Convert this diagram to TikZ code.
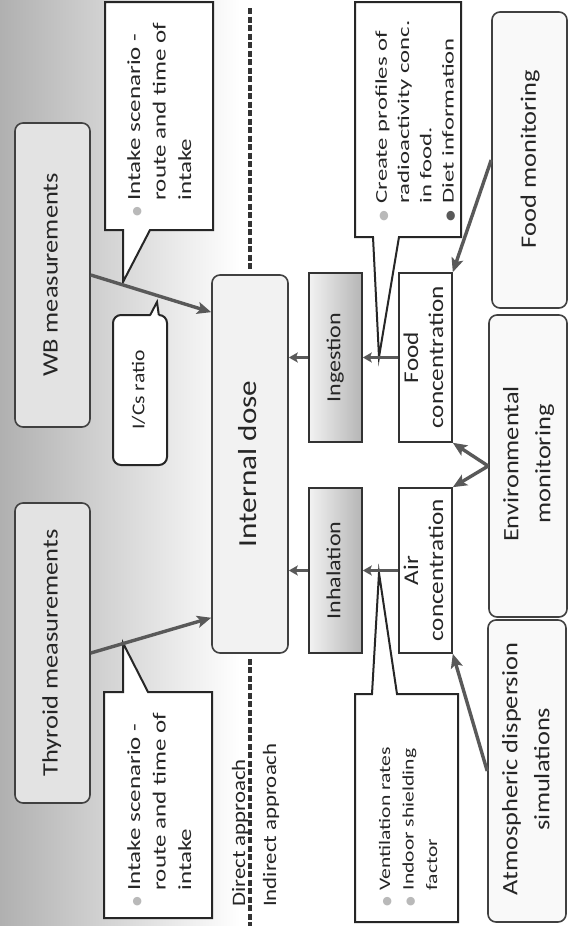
\documentclass[tikz,border=0pt]{standalone}
\usepackage{fontspec}
\setmainfont{Carlito}
\newfontfamily\dejavu{DejaVu Sans}
\usepackage{graphicx}
\usetikzlibrary{arrows.meta,calc}

\newcommand{\lbltxt}[4]{\fontsize{#1}{#2}\selectfont\scalebox{#3}[1]{\begin{tabular}{@{}c@{}}#4\end{tabular}}}
\newcommand{\cbox}[4]{\fontsize{#1}{#2}\selectfont\scalebox{#3}[1]{\begin{tabular}{@{}c@{\hspace{5pt}}l@{}}#4\end{tabular}}}
\newcommand{\cbul}{{\dejavu\fontsize{11}{11}\selectfont\scalebox{0.75}[1]{\textcolor{gray!55}{●}}}}
\newcommand{\cbuld}{{\dejavu\fontsize{11}{11}\selectfont\scalebox{0.75}[1]{\textcolor{black!65}{●}}}}

\begin{document}
\begin{tikzpicture}[x=1pt,y=-1pt,
  box/.style={draw=black!75, line width=1.6pt, rounded corners=8pt, inner sep=0pt},
  sbox/.style={draw=black!80, line width=1.6pt, inner sep=0pt},
  txt/.style={rotate=90, inner sep=0pt, text=black!85},
  call/.style={draw=black!85, line width=2pt, fill=white},
  arr/.style={draw=black!65, line width=3.4pt, -{Stealth[length=14pt,width=12pt,inset=3pt]}},
  sarr/.style={draw=black!65, line width=3pt, -{Stealth[length=9pt,width=10pt,inset=2pt]}},
  dashline/.style={draw=black!80, line width=3.4pt, dash pattern=on 6pt off 2.5pt}
]
\useasboundingbox (0,0) rectangle (570,926);
\fill[white] (0,0) rectangle (570,926);
\shade[left color=gray!62, middle color=gray!36, right color=white] (0,0) rectangle (240,926);

% boxes
\node[box, fill=gray!22, minimum width=75pt, minimum height=300pt] (thy) at (52.5,653) {};
\node[box, fill=gray!22, minimum width=75pt, minimum height=304pt] (wb) at (52.5,275) {};
\node[box, fill=gray!10, minimum width=76pt, minimum height=378pt] (dose) at (250,464) {};
\node[sbox, left color=gray!10, right color=gray!58, minimum width=53pt, minimum height=165pt] (inh) at (335.5,570.5) {};
\node[sbox, left color=gray!10, right color=gray!58, minimum width=53pt, minimum height=169pt] (ing) at (335.5,357.5) {};
\node[sbox, fill=white, minimum width=53pt, minimum height=169pt] (food) at (425.5,357.5) {};
\node[sbox, fill=white, minimum width=53pt, minimum height=165pt] (air) at (425.5,570.5) {};
\node[box, fill=gray!5, minimum width=75pt, minimum height=296pt] (fmon) at (529.5,160) {};
\node[box, fill=gray!5, minimum width=78pt, minimum height=302pt] (env) at (528,466) {};
\node[box, fill=gray!5, minimum width=78pt, minimum height=302pt] (atm) at (527,771) {};

% callouts
\draw[call] (105,2) -- (213,2) -- (213,230) -- (150,230) -- (123,282) -- (123,230) -- (105,230) -- cycle;
\draw[call] (104,692) -- (123,692) -- (123,643) -- (148,692) -- (212,692) -- (212,918) -- (104,918) -- cycle;
\draw[call] (355,2) -- (461,2) -- (461,237) -- (399,237) -- (379,357) -- (373,237) -- (355,237) -- cycle;
\draw[call] (355,694) -- (372,694) -- (379,573) -- (397,694) -- (458,694) -- (458,922) -- (355,922) -- cycle;
\node[box, draw=black!85, line width=2pt, fill=white, minimum width=54pt, minimum height=150pt] (ics) at (140,390) {};
\fill[white] (150.2,317) -- (157,302) -- (158.8,317) -- cycle;
\draw[draw=black!85, line width=2pt] (150.2,315) -- (157,302) -- (158.8,315);

% dashed divider
\coordinate (dtop) at (250,8);
\coordinate (dbot) at (250,926);
\draw[dashline, shorten >=4pt] (dtop) -- (dose.north);
\draw[dashline, shorten <=5pt] (dose.south) -- (dbot);

% labels
\node[txt] (thyT) at (thy) {\lbltxt{22}{26}{1.2}{Thyroid measurements}};
\node[txt] (wbT) at (wb) {\lbltxt{22}{26}{1.2}{WB measurements}};
\node[txt] (doseT) at (dose) {\lbltxt{26}{30}{1.2}{Internal dose}};
\node[txt] (icsT) at (ics) {\lbltxt{18}{22}{1.2}{I/Cs ratio}};
\node[txt] (inhT) at (inh) {\lbltxt{20}{24}{1.2}{Inhalation}};
\node[txt] (ingT) at (ing) {\lbltxt{20}{24}{1.2}{Ingestion}};
\node[txt] (foodT) at (food) {\lbltxt{21}{25}{1.2}{Food\\concentration}};
\node[txt] (airT) at (air) {\lbltxt{21}{25}{1.2}{Air\\concentration}};
\node[txt, xshift=1pt] (fmonT) at (fmon) {\lbltxt{22}{32}{1.2}{Food monitoring}};
\node[txt, xshift=2pt] (envT) at (env) {\lbltxt{22}{32}{1.2}{Environmental\\monitoring}};
\node[txt, xshift=2pt] (atmT) at (atm) {\lbltxt{22}{32}{1.2}{Atmospheric dispersion\\simulations}};

\node[txt, anchor=base west] (dirT) at (245,907) {\fontsize{19}{23}\selectfont\scalebox{1.2}[1]{Direct approach}};
\node[txt, anchor=base west] (indT) at (276,907) {\fontsize{19}{23}\selectfont\scalebox{1.2}[1]{Indirect approach}};

\node[txt, anchor=north west] (c1T) at (122,217) {\cbox{18.5}{25.5}{1.35}{\cbul & Intake scenario -\\ & route and time of\\ & intake}};
\node[txt, anchor=north west] (c2T) at (122,907) {\cbox{18.5}{25.5}{1.35}{\cbul & Intake scenario -\\ & route and time of\\ & intake}};
\node[txt, anchor=north west] (c3T) at (371,222) {\cbox{16.5}{22.3}{1.5}{\cbul & Create profiles of\\ & radioactivity conc.\\ & in food.\\ \cbuld & Diet information}};
\node[txt, anchor=north west] (c4T) at (373.5,907) {\cbox{16}{23.5}{1.35}{\cbul & Ventilation rates\\ \cbul & Indoor shielding\\ & factor}};

% arrows
\draw[arr] (thy.east) -- ($(dose.north west)!0.905!(dose.south west)$);
\draw[arr] (wb.east) -- ($(dose.north west)!0.1!(dose.south west)$);
\draw[sarr] (inh.west) -- (inh.west -| dose.east);
\draw[sarr] (ing.west) -- (ing.west -| dose.east);
\draw[sarr] (air.west) -- (air.west -| inh.east);
\draw[sarr] (food.west) -- (food.west -| ing.east);
\draw[arr] (env.west) -- (food.south east);
\draw[arr] (env.west) -- (air.north east);
\draw[arr] (fmon.west) -- (food.north east);
\draw[arr] (atm.west) -- (air.south east);
\end{tikzpicture}
\end{document}
